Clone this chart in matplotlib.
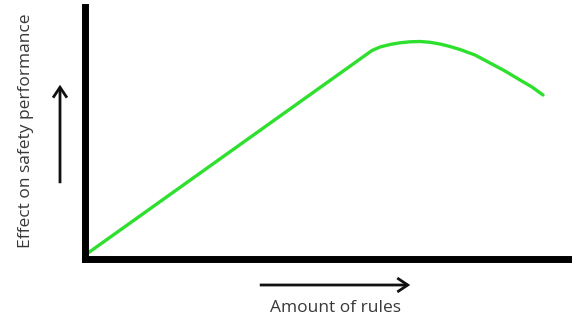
import matplotlib
matplotlib.use("Agg")
import matplotlib.pyplot as plt

# Data (in arbitrary units)
rules = [3, 287, 295, 305, 315, 325, 335, 345, 355, 365, 375,
         390, 405, 420, 435, 447, 458]
effect = [6, 208.5, 212, 214.5, 216.2, 217.2, 217.5, 216.7,
          215, 212.5, 209.5, 204, 196, 188, 179, 172, 164]

x_label = "Amount of rules"
y_label = "Effect on safety performance"

W, H = 572, 319
fig = plt.figure(figsize=(W / 100, H / 100), dpi=100)
fig.patch.set_facecolor("white")

left_px, bottom_px, right_px, top_px = 85, 259, 572, 7
ax = fig.add_axes([left_px / W, (H - bottom_px) / H,
                   (right_px - left_px) / W, (bottom_px - top_px) / H])
ax.set_xlim(0, right_px - left_px)
ax.set_ylim(0, bottom_px - top_px)
ax.plot(rules, effect, color="#2ee02e", lw=2.4, solid_capstyle="round",
        solid_joinstyle="round", clip_on=False)

for s in ["top", "right"]:
    ax.spines[s].set_visible(False)
for s in ["left", "bottom"]:
    ax.spines[s].set_linewidth(5)
    ax.spines[s].set_color("black")
    ax.spines[s].set_capstyle("projecting")
ax.set_xticks([])
ax.set_yticks([])
ax.patch.set_alpha(0)

def fx(px):
    return px / W

def fy(py):
    return 1 - py / H

style = "->,head_length=7.5,head_width=5"
# arrows
fig.add_artist(matplotlib.patches.FancyArrowPatch(
    (fx(60), fy(186)), (fx(60), fy(82)), transform=fig.transFigure,
    arrowstyle=style, lw=2.0, color="#111111", mutation_scale=1,
    joinstyle="miter", capstyle="butt"))
fig.add_artist(matplotlib.patches.FancyArrowPatch(
    (fx(257), fy(285)), (fx(413), fy(285)), transform=fig.transFigure,
    arrowstyle=style, lw=2.0, color="#111111", mutation_scale=1,
    joinstyle="miter", capstyle="butt"))

fig.text(fx(335), fy(308), x_label, ha="center", va="center",
         fontsize=12.5, color="#383838", family="Open Sans")
fig.text(fx(26), fy(131), y_label, ha="center", va="center", rotation=90,
         fontsize=12.5, color="#383838", family="Open Sans")

fig.savefig("out.png", dpi=100, facecolor="white")
